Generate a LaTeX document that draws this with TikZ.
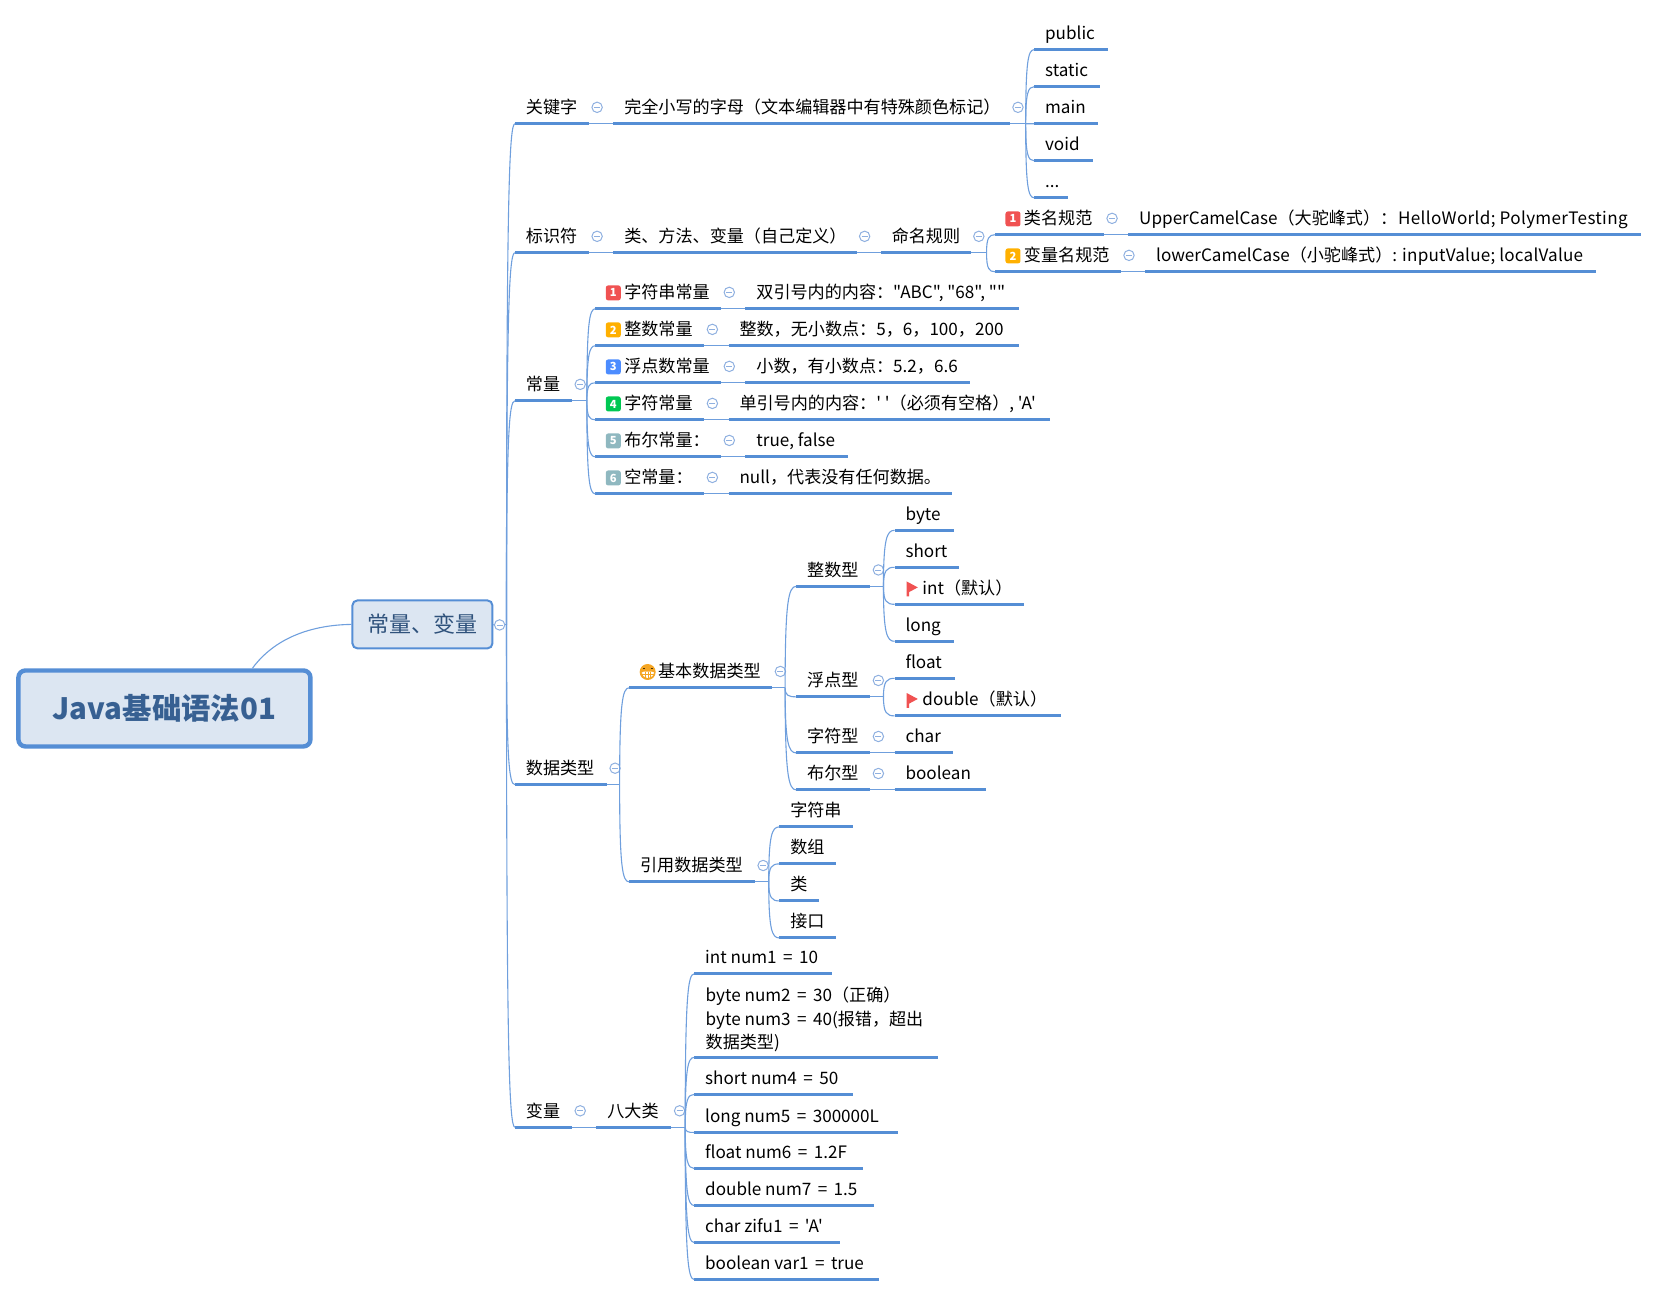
\documentclass[tikz,border=0pt]{standalone}
\usepackage{fontspec}
\setmainfont{Noto Sans CJK SC}[Ligatures=TeXOff]
\usetikzlibrary{calc}
\definecolor{ul}{HTML}{558ED5}
\definecolor{cn}{HTML}{6F9FDD}
\definecolor{cc}{HTML}{8FB0E0}
\definecolor{bf}{HTML}{DCE6F2}
\definecolor{tt}{HTML}{376092}
\definecolor{ic1}{HTML}{F05252}
\definecolor{ic2}{HTML}{FFB000}
\definecolor{ic3}{HTML}{4C8CFF}
\definecolor{ic4}{HTML}{00C853}
\definecolor{ic5}{HTML}{8FB8C0}
\definecolor{smile}{HTML}{F5A623}
\tikzset{
  under/.style={draw=ul,line width=1.5pt},
  conn/.style={draw=cn,line width=0.55pt},
  lbl/.style={anchor=base west,inner sep=0pt,font=\fontsize{8.55}{11.63}\selectfont,text=black},
  mlbl/.style={anchor=south west,inner sep=0pt,align=left,font=\fontsize{8.55}{11.63}\selectfont,text=black},
  colc/.style={circle,draw=cc,line width=0.5pt,fill=white,minimum size=5.2pt,inner sep=0pt,
    path picture={\draw[cc,line width=0.4pt] ([xshift=-1.5pt]path picture bounding box.center)--([xshift=1.5pt]path picture bounding box.center);}},
  num/.style={rounded corners=1.2pt,minimum size=7.5pt,inner sep=0pt,text=white,font=\fontsize{5.6}{6}\bfseries\selectfont},
  rootb/.style={draw=ul,fill=bf,line width=2.2pt,rounded corners=3.5pt,minimum width=146pt,minimum height=38pt,text=tt,font=\fontsize{14.7}{18}\bfseries\selectfont,inner sep=0pt},
  mainb/.style={draw=ul,fill=bf,line width=1pt,rounded corners=2.5pt,minimum width=70pt,minimum height=24pt,text=tt!85!black,font=\fontsize{11}{13}\selectfont,inner sep=0pt},
  flagc/.style={fill=ic1,draw=none}
}
\newcommand\eqs{\hspace{1.3pt} = \hspace{1.3pt}}
\newcommand\lsa[1]{{\addfontfeature{LetterSpace=1.9}#1}}
\newcommand\lsb[1]{{\addfontfeature{LetterSpace=1.2}#1}}
% leaf: name x1 x2 y text
\newcommand\tpl[5]{\coordinate (#1L) at (#2,#4);\coordinate (#1R) at (#3,#4);
  \draw[under] (#1L)--(#1R);\node[lbl] (#1) at ({#2+10},{#4-9.4}) {#5};}
% with collapse circle
\newcommand\tpc[5]{\tpl{#1}{#2}{#3}{#4}{#5}\node[colc] (#1c) at ({#3+7.7},{#4-15.5}) {};}
% icon + circle: name x1 x2 y colour number text
\newcommand\tpi[7]{\coordinate (#1L) at (#2,#4);\coordinate (#1R) at (#3,#4);
  \draw[under] (#1L)--(#1R);
  \node[num,fill=#5] (#1i) at ({#2+17},{#4-15}) {#6};
  \node[lbl] (#1) at ({#2+27},{#4-9.4}) {#7};
  \node[colc] (#1c) at ({#3+7.7},{#4-15.5}) {};}
% flagged leaf
\newcommand\tpf[5]{\coordinate (#1L) at (#2,#4);\coordinate (#1R) at (#3,#4);
  \draw[under] (#1L)--(#1R);
  \fill[flagc] ({#2+11.5},{#4-21.6}) -- ({#2+22},{#4-16}) -- ({#2+13.8},{#4-11.6}) -- ({#2+13.8},{#4-7.5}) -- ({#2+11.5},{#4-7.5}) -- cycle;
  \node[lbl] (#1) at ({#2+26},{#4-9.4}) {#5};}
% curve from fork to child
\newcommand\cv[2]{\draw[conn] (#1) .. controls ($(#1|-#2L)!0.15!(#1)$) and ($(#1|-#2L)!0.3!(#2L)$) .. (#2L);}
\newcommand\st[2]{\draw[conn] (#1R) -- (#2L);}
\newcommand\fk[3]{\coordinate (#1f) at (#2,#3);\draw[conn] (#1R) -- (#1f);}
\begin{document}
\begin{tikzpicture}[x=0.5287pt,y=-0.5287pt]
\useasboundingbox (0,0) rectangle (1568,1226);
\node[rootb] (root) at (155.5,670) {Java基础语法01};
\node[mainb] (main) at (399.5,590.5) {常量、变量};
\draw[conn] ([xshift=44pt]root.north) .. controls (260,603) and (295,591) .. (main.west);
\node[colc] (mainc) at (472.5,591) {};
\coordinate (mainf) at (479,591);
\draw[conn] (main.east) -- (mainc.west);
\draw[conn] (mainc.east) -- (mainf);
% keywords
\tpc{kw}{487}{557}{117}{关键字}
\tpc{kwa}{580}{955}{117}{完全小写的字母（文本编辑器中有特殊颜色标记）}
\st{kw}{kwa}
\fk{kwa}{970}{117}
\tpl{pub}{978}{1048}{47}{public}
\tpl{sta}{978}{1040}{82}{static}
\tpl{mai}{978}{1038}{117}{main}
\tpl{voi}{978}{1034}{152}{void}
\tpl{dot}{978}{1010}{187}{...}
\cv{kwaf}{pub}\cv{kwaf}{sta}\cv{kwaf}{mai}\cv{kwaf}{voi}\cv{kwaf}{dot}
% identifiers
\tpc{id}{487}{557}{239}{标识符}
\tpc{ida}{580}{810}{239}{类、方法、变量（自己定义）}
\st{id}{ida}
\tpc{idb}{833}{918}{239}{命名规则}
\st{ida}{idb}
\fk{idb}{933}{239}
\tpi{cls}{941}{1044}{222}{ic1}{1}{类名规范}
\tpl{clsv}{1067}{1552}{222}{UpperCamelCase（大驼峰式）：\hspace{0.4pt}\lsa{HelloWorld; PolymerTesting}}
\st{cls}{clsv}
\tpi{var}{941}{1060}{257}{ic2}{2}{变量名规范}
\tpl{varv}{1083}{1509}{257}{lowerCamelCase（小驼峰式）: \lsb{inputValue; localValue}}
\st{var}{varv}
\cv{idbf}{cls}\cv{idbf}{var}
% constants
\tpc{con}{487}{541}{379}{常量}
\fk{con}{555}{379}
\tpi{c1}{563}{682}{292}{ic1}{1}{字符串常量}
\tpl{c1v}{705}{964}{292}{双引号内的内容："ABC", "68", ""}
\tpi{c2}{563}{666}{327}{ic2}{2}{整数常量}
\tpl{c2v}{689}{964}{327}{整数，无小数点：5，6，100，200}
\tpi{c3}{563}{682}{362}{ic3}{3}{浮点数常量}
\tpl{c3v}{705}{917}{362}{小数，有小数点：5.2，6.6}
\tpi{c4}{563}{666}{397}{ic4}{4}{字符常量}
\tpl{c4v}{689}{993}{397}{单引号内的内容：' '（必须有空格）, 'A'}
\tpi{c5}{563}{682}{432}{ic5}{5}{布尔常量：}
\tpl{c5v}{705}{802}{432}{true, false}
\tpi{c6}{563}{666}{467}{ic5}{6}{空常量：}
\tpl{c6v}{689}{900}{467}{null，代表没有任何数据。}
\st{c1}{c1v}\st{c2}{c2v}\st{c3}{c3v}\st{c4}{c4v}\st{c5}{c5v}\st{c6}{c6v}
\cv{conf}{c1}\cv{conf}{c2}\cv{conf}{c3}\cv{conf}{c4}\cv{conf}{c5}\cv{conf}{c6}
% data types
\tpc{dt}{487}{574}{742}{数据类型}
\fk{dt}{586}{742}
\coordinate (bL) at (595,650.5);\coordinate (bR) at (730.5,650.5);
\draw[under] (bL)--(bR);
\node[circle,fill=smile,minimum size=8pt,inner sep=0pt] (bi) at (612.5,635.5) {};
\fill[white,rounded corners=1pt] (607,635.2) -- (618.4,635.2) -- (618.4,637.5) -- (615.5,641) -- (610,641) -- (607,637.5) -- cycle;
\draw[smile,line width=0.25pt] (607,637.8) -- (618.4,637.8) (610,635.2) -- (610,641) (612.7,635.2) -- (612.7,641) (615.4,635.2) -- (615.4,641);
\draw[black!70!smile,line width=0.35pt] (608.2,632) -- (610.2,632) (615.2,632) -- (617.2,632);
\node[lbl] (b) at (622,641) {基本数据类型};
\node[colc] (bc) at (738,635) {};
\fk{b}{742.5}{650.5}
\tpc{zs}{753}{823}{554.5}{整数型}
\fk{zs}{835.5}{554.5}
\tpl{byte}{846}{902}{501.5}{byte}
\tpl{short}{846}{907}{536.5}{short}
\tpf{int}{846}{968}{571.5}{int（默认）}
\tpl{long}{846}{902}{606.5}{long}
\cv{zsf}{byte}\cv{zsf}{short}\cv{zsf}{int}\cv{zsf}{long}
\tpc{fd}{753}{823}{659}{浮点型}
\fk{fd}{835.5}{659}
\tpl{flo}{846}{903}{641.5}{float}
\tpf{dou}{846}{1003}{677}{double（默认）}
\cv{fdf}{flo}\cv{fdf}{dou}
\tpc{zf}{753}{823}{712}{字符型}
\tpl{cha}{846}{901}{712}{char}
\st{zf}{cha}
\tpc{be}{753}{823}{747}{布尔型}
\tpl{boo}{846}{932}{747}{boolean}
\st{be}{boo}
\cv{bf}{zs}\cv{bf}{fd}\cv{bf}{zf}\cv{bf}{be}
\tpc{yy}{595}{714}{834}{引用数据类型}
\fk{yy}{727}{834}
\tpl{str}{737}{807}{782}{字符串}
\tpl{arr}{737}{791}{817}{数组}
\tpl{cla}{737}{775}{852}{类}
\tpl{itf}{737}{791}{887}{接口}
\cv{yyf}{str}\cv{yyf}{arr}\cv{yyf}{cla}\cv{yyf}{itf}
\cv{dtf}{b}\cv{dtf}{yy}
% variables
\tpc{vr}{487}{541}{1066}{变量}
\tpc{vra}{564}{635}{1066}{八大类}
\st{vr}{vra}
\fk{vra}{648}{1066}
\tpl{n1}{656.5}{787}{921}{int num1\eqs 10}
\coordinate (n2L) at (656.5,1000);\coordinate (n2R) at (887,1000);
\draw[under] (n2L)--(n2R);
\node[mlbl] (n2) at (667,995) {byte num2\eqs 30（正确）\\byte num3\eqs 40(报错，超出\\数据类型)};
\tpl{n3}{656.5}{807}{1035}{short num4\eqs 50}
\tpl{n4}{656.5}{849}{1071}{long num5\eqs 300000L}
\tpl{n5}{656.5}{816}{1105}{float num6\eqs 1.2F}
\tpl{n6}{656.5}{827}{1140}{double num7\eqs 1.5}
\tpl{n7}{656.5}{794}{1175}{char zifu1\eqs 'A'}
\tpl{n8}{656.5}{831}{1210}{boolean var1\eqs true}
\cv{vraf}{n1}\cv{vraf}{n2}\cv{vraf}{n3}\cv{vraf}{n4}\cv{vraf}{n5}\cv{vraf}{n6}\cv{vraf}{n7}\cv{vraf}{n8}
% trunk
\cv{mainf}{kw}\cv{mainf}{id}\cv{mainf}{con}\cv{mainf}{dt}\cv{mainf}{vr}
\end{tikzpicture}
\end{document}
